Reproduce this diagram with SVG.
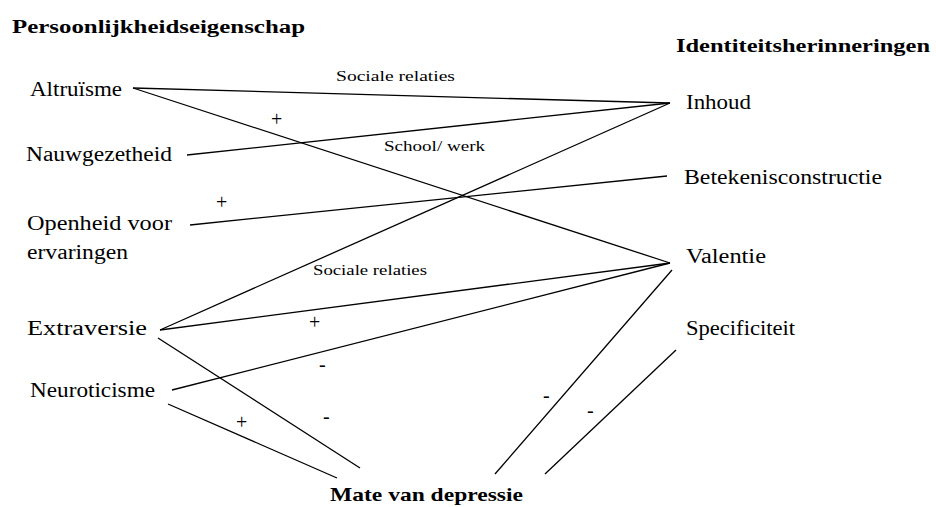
<svg xmlns="http://www.w3.org/2000/svg" width="936" height="507" viewBox="0 0 936 507">
<style>
.t{font-family:"Liberation Serif","Times New Roman","DejaVu Serif",serif;font-size:20px;fill:#000}
.h{font-family:"Liberation Serif","Times New Roman","DejaVu Serif",serif;font-size:18px;font-weight:bold;fill:#000}
.s{font-family:"Liberation Serif","Times New Roman","DejaVu Serif",serif;font-size:15px;fill:#000}
.c{stroke:#000;stroke-width:1.3;fill:none}
</style>
<rect width="936" height="507" fill="#fff"/>
<g id="connectors">
<line class="c" x1="133" y1="88" x2="670" y2="103"/>
<line class="c" x1="133" y1="88" x2="670" y2="263"/>
<line class="c" x1="187" y1="155" x2="670" y2="103"/>
<line class="c" x1="190" y1="225" x2="667" y2="176"/>
<line class="c" x1="160" y1="330" x2="670" y2="103"/>
<line class="c" x1="160" y1="330" x2="670" y2="263"/>
<line class="c" x1="172" y1="390" x2="670" y2="263"/>
<line class="c" x1="158" y1="338" x2="360" y2="468"/>
<line class="c" x1="168" y1="404" x2="337" y2="478"/>
<line class="c" x1="672" y1="270" x2="495" y2="474"/>
<line class="c" x1="676" y1="350" x2="545" y2="474"/>
</g>
<g id="labels">
<text class="s" x="336" y="81" textLength="119" lengthAdjust="spacingAndGlyphs">Sociale relaties</text>
<text class="s" x="384" y="151" textLength="101" lengthAdjust="spacingAndGlyphs">School/ werk</text>
<text class="s" x="313" y="275" textLength="114" lengthAdjust="spacingAndGlyphs">Sociale relaties</text>
<text class="t" x="271" y="126">+</text>
<text class="t" x="216" y="209">+</text>
<text class="t" x="309" y="329">+</text>
<text class="t" x="236" y="429">+</text>
<text class="t" x="319" y="371">-</text>
<text class="t" x="323" y="423">-</text>
<text class="t" x="543" y="402">-</text>
<text class="t" x="587" y="417">-</text>
</g>
<g id="header-left"><text class="h" x="12" y="33" textLength="293" lengthAdjust="spacingAndGlyphs">Persoonlijkheidseigenschap</text></g>
<g id="header-right"><text class="h" x="676" y="52" textLength="254" lengthAdjust="spacingAndGlyphs">Identiteitsherinneringen</text></g>
<g id="altruisme"><text class="t" x="30" y="96" textLength="92" lengthAdjust="spacingAndGlyphs">Altruïsme</text></g>
<g id="nauwgezetheid"><text class="t" x="26" y="161" textLength="146" lengthAdjust="spacingAndGlyphs">Nauwgezetheid</text></g>
<g id="openheid"><text class="t" x="27" y="230" textLength="145" lengthAdjust="spacingAndGlyphs">Openheid voor</text><text class="t" x="27" y="259" textLength="101" lengthAdjust="spacingAndGlyphs">ervaringen</text></g>
<g id="extraversie"><text class="t" x="27" y="335" textLength="120" lengthAdjust="spacingAndGlyphs">Extraversie</text></g>
<g id="neuroticisme"><text class="t" x="30" y="397" textLength="125" lengthAdjust="spacingAndGlyphs">Neuroticisme</text></g>
<g id="inhoud"><text class="t" x="686" y="109" textLength="65" lengthAdjust="spacingAndGlyphs">Inhoud</text></g>
<g id="betekenisconstructie"><text class="t" x="684" y="184" textLength="198" lengthAdjust="spacingAndGlyphs">Betekenisconstructie</text></g>
<g id="valentie"><text class="t" x="686" y="263" textLength="80" lengthAdjust="spacingAndGlyphs">Valentie</text></g>
<g id="specificiteit"><text class="t" x="686" y="335" textLength="109" lengthAdjust="spacingAndGlyphs">Specificiteit</text></g>
<g id="depressie"><text class="h" x="330" y="501" style="font-size:19px" textLength="193" lengthAdjust="spacingAndGlyphs">Mate van depressie</text></g>
</svg>
